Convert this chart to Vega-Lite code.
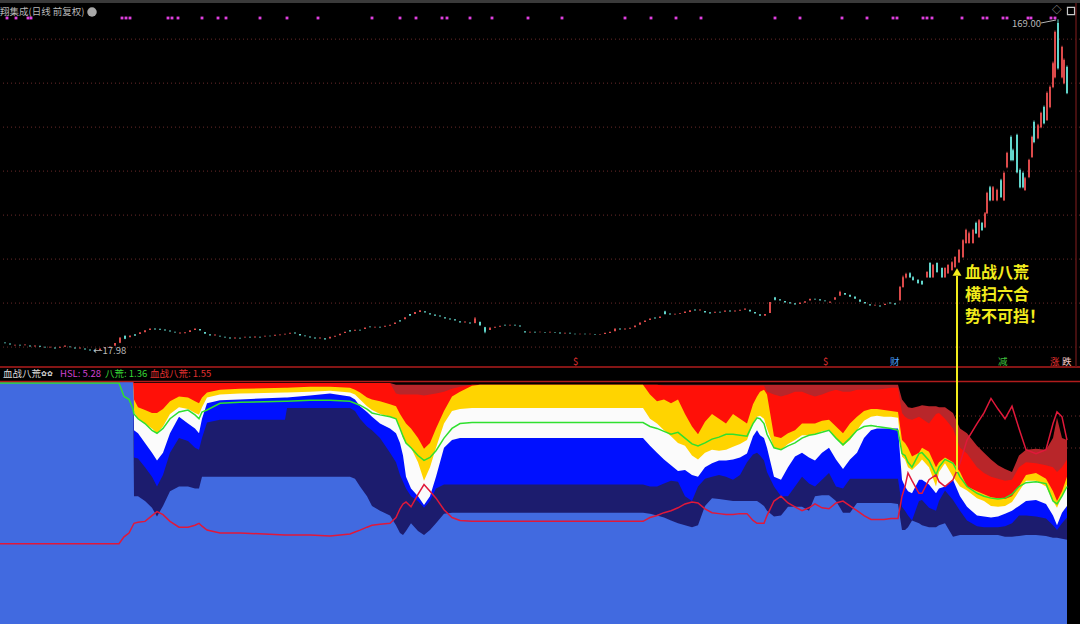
{
"$schema":"https://vega.github.io/schema/vega-lite/v6.json",
"width":1080,"height":624,
"autosize":"none",
"padding":0,
"background":"#000000",
"config":{"view":{"stroke":null,"fill":"#000000"},"scale":{"continuousPadding":0}},
"datasets":{
"pgrid":[{"p":20},{"p":40},{"p":60},{"p":80},{"p":100},{"p":120},{"p":140},{"p":160}],
"igrid":[{"L":208},{"L":176}],
"seps":[{"L":242.5},{"L":257}],
"frame":[{"L":622.5}],
"rborder":[{"t":1076,"L1":257,"L2":621}],
"ind":[
{"t":0,"d":242,"r":242,"g":242,"w":242,"b":242,"n":242,"l":242,"G":241,"R":75},
{"t":119,"d":242,"r":242,"g":242,"w":242,"b":242,"n":242,"l":242,"G":241,"R":75},
{"t":124,"d":242,"r":242,"g":242,"w":242,"b":242,"n":242,"l":242,"G":227,"R":82},
{"t":129,"d":242,"r":242,"g":242,"w":242,"b":242,"n":242,"l":242,"G":224,"R":86},
{"t":133,"d":242,"r":242,"g":242,"w":242,"b":242,"n":242,"l":242,"G":214,"R":94},
{"t":134,"d":241,"r":241,"g":224,"w":211,"b":192,"n":164,"l":124,"G":209,"R":96},
{"t":138,"d":241,"r":241,"g":216,"w":204,"b":189,"n":163,"l":124,"G":204,"R":97},
{"t":145,"d":241,"r":241,"g":213,"w":199,"b":179,"n":154,"l":119,"G":199,"R":98},
{"t":152,"d":241,"r":241,"g":210,"w":194,"b":169,"n":144,"l":112,"G":192,"R":104},
{"t":157,"d":241,"r":241,"g":210,"w":189,"b":161,"n":134,"l":103,"G":189,"R":108},
{"t":163,"d":241,"r":241,"g":214,"w":196,"b":169,"n":146,"l":114,"G":194,"R":105},
{"t":170,"d":241,"r":241,"g":222,"w":209,"b":189,"n":169,"l":129,"G":204,"R":98},
{"t":179,"d":241,"r":241,"g":227,"w":216,"b":206,"n":184,"l":134,"G":211,"R":92},
{"t":188,"d":241,"r":241,"g":226,"w":214,"b":199,"n":181,"l":134,"G":213,"R":92},
{"t":195,"d":241,"r":241,"g":222,"w":210,"b":194,"n":174,"l":132,"G":208,"R":94},
{"t":199,"d":241,"r":241,"g":220,"w":208,"b":189,"n":172,"l":132,"G":204,"R":96},
{"t":202,"d":241,"r":241,"g":226,"w":216,"b":204,"n":184,"l":144,"G":211,"R":93},
{"t":207,"d":241,"r":241,"g":231,"w":226,"b":220,"n":200,"l":144,"G":213,"R":89},
{"t":220,"d":241,"r":241,"g":234,"w":229,"b":223,"n":203,"l":144,"G":220,"R":86},
{"t":240,"d":241,"r":241,"g":235,"w":230,"b":224,"n":203,"l":144,"G":221,"R":86},
{"t":285,"d":241,"r":241,"g":236,"w":231,"b":226,"n":203,"l":144,"G":222,"R":84},
{"t":287,"d":241,"r":241,"g":236,"w":231,"b":226,"n":215,"l":144,"G":222,"R":84},
{"t":310,"d":241,"r":241,"g":237,"w":232,"b":228,"n":215,"l":144,"G":223,"R":84},
{"t":330,"d":241,"r":241,"g":237,"w":233,"b":230,"n":215,"l":144,"G":223,"R":83},
{"t":350,"d":241,"r":241,"g":236,"w":231,"b":227,"n":215,"l":144,"G":222,"R":85},
{"t":355,"d":241,"r":241,"g":234,"w":229,"b":224,"n":212,"l":142,"G":220,"R":87},
{"t":360,"d":241,"r":241,"g":231,"w":224,"b":217,"n":204,"l":134,"G":218,"R":89},
{"t":367,"d":241,"r":241,"g":226,"w":217,"b":211,"n":196,"l":124,"G":214,"R":92},
{"t":372,"d":241,"r":241,"g":224,"w":213,"b":206,"n":192,"l":114,"G":210,"R":94},
{"t":380,"d":241,"r":241,"g":222,"w":209,"b":199,"n":184,"l":109,"G":208,"R":95},
{"t":390,"d":241,"r":241,"g":219,"w":206,"b":194,"n":169,"l":104,"G":206,"R":96},
{"t":396,"d":239,"r":230,"g":217,"w":204,"b":189,"n":159,"l":94,"G":204,"R":102},
{"t":400,"d":239,"r":229,"g":209,"w":194,"b":179,"n":146,"l":86,"G":194,"R":111},
{"t":403,"d":239,"r":229,"g":204,"w":184,"b":166,"n":139,"l":84,"G":186,"R":116},
{"t":406,"d":239,"r":229,"g":199,"w":179,"b":144,"n":132,"l":88,"G":179,"R":118},
{"t":411,"d":239,"r":229,"g":194,"w":174,"b":132,"n":124,"l":96,"G":174,"R":113},
{"t":418,"d":239,"r":229,"g":184,"w":159,"b":124,"n":119,"l":88,"G":166,"R":126},
{"t":424,"d":239,"r":228,"g":173,"w":140,"b":115,"n":112,"l":84,"G":161,"R":136},
{"t":430,"d":239,"r":229,"g":179,"w":154,"b":124,"n":119,"l":89,"G":164,"R":129},
{"t":436,"d":239,"r":230,"g":194,"w":174,"b":144,"n":132,"l":96,"G":171,"R":122},
{"t":444,"d":239,"r":232,"g":212,"w":199,"b":174,"n":136,"l":106,"G":184,"R":110},
{"t":452,"d":239,"r":235,"g":227,"w":212,"b":182,"n":136,"l":107,"G":194,"R":102},
{"t":460,"d":239,"r":237,"g":232,"w":214,"b":184,"n":136,"l":107,"G":199,"R":99},
{"t":472,"d":239,"r":239,"g":238,"w":215,"b":184,"n":136,"l":107,"G":200,"R":98},
{"t":480,"d":239,"r":239,"g":239,"w":215,"b":184,"n":136,"l":107,"G":200,"R":98},
{"t":643,"d":239,"r":239,"g":239,"w":215,"b":184,"n":136,"l":107,"G":200,"R":98},
{"t":650,"d":239,"r":239,"g":229,"w":204,"b":176,"n":134,"l":106,"G":196,"R":102},
{"t":657,"d":239,"r":239,"g":222,"w":199,"b":169,"n":134,"l":104,"G":194,"R":104},
{"t":664,"d":239,"r":238,"g":224,"w":192,"b":162,"n":137,"l":102,"G":191,"R":107},
{"t":671,"d":239,"r":238,"g":220,"w":186,"b":156,"n":140,"l":99,"G":188,"R":109},
{"t":678,"d":239,"r":238,"g":224,"w":179,"b":150,"n":139,"l":96,"G":190,"R":112},
{"t":685,"d":239,"r":238,"g":209,"w":176,"b":151,"n":124,"l":94,"G":184,"R":116},
{"t":692,"d":239,"r":238,"g":196,"w":166,"b":146,"n":119,"l":92,"G":178,"R":118},
{"t":698,"d":239,"r":238,"g":188,"w":162,"b":144,"n":134,"l":94,"G":176,"R":117},
{"t":705,"d":239,"r":238,"g":201,"w":169,"b":154,"n":142,"l":114,"G":179,"R":111},
{"t":712,"d":239,"r":238,"g":209,"w":172,"b":158,"n":144,"l":122,"G":183,"R":107},
{"t":719,"d":239,"r":238,"g":204,"w":171,"b":161,"n":146,"l":121,"G":185,"R":106},
{"t":726,"d":239,"r":238,"g":199,"w":172,"b":161,"n":144,"l":120,"G":188,"R":105},
{"t":733,"d":239,"r":238,"g":209,"w":175,"b":162,"n":141,"l":119,"G":188,"R":105},
{"t":740,"d":239,"r":238,"g":204,"w":178,"b":164,"n":146,"l":119,"G":187,"R":106},
{"t":747,"d":239,"r":238,"g":199,"w":182,"b":168,"n":159,"l":119,"G":186,"R":106},
{"t":753,"d":239,"r":238,"g":219,"w":199,"b":186,"n":167,"l":119,"G":199,"R":99},
{"t":757,"d":239,"r":238,"g":227,"w":206,"b":192,"n":169,"l":119,"G":205,"R":96},
{"t":760,"d":239,"r":238,"g":232,"w":207,"b":187,"n":166,"l":117,"G":204,"R":96},
{"t":764,"d":239,"r":238,"g":234,"w":204,"b":184,"n":161,"l":114,"G":199,"R":96},
{"t":767,"d":239,"r":232,"g":229,"w":194,"b":174,"n":149,"l":109,"G":188,"R":104},
{"t":774,"d":239,"r":229,"g":186,"w":174,"b":144,"n":134,"l":103,"G":174,"R":119},
{"t":781,"d":239,"r":227,"g":184,"w":172,"b":141,"n":124,"l":104,"G":172,"R":124},
{"t":788,"d":239,"r":229,"g":189,"w":178,"b":154,"n":124,"l":113,"G":176,"R":117},
{"t":795,"d":239,"r":232,"g":192,"w":182,"b":165,"n":134,"l":113,"G":179,"R":113},
{"t":802,"d":239,"r":232,"g":199,"w":187,"b":169,"n":144,"l":113,"G":184,"R":109},
{"t":809,"d":239,"r":229,"g":199,"w":187,"b":164,"n":137,"l":109,"G":187,"R":112},
{"t":815,"d":239,"r":227,"g":199,"w":188,"b":161,"n":134,"l":124,"G":188,"R":116},
{"t":822,"d":239,"r":229,"g":202,"w":191,"b":169,"n":141,"l":125,"G":190,"R":112},
{"t":829,"d":239,"r":232,"g":203,"w":192,"b":174,"n":148,"l":125,"G":192,"R":111},
{"t":836,"d":239,"r":234,"g":196,"w":184,"b":162,"n":134,"l":119,"G":184,"R":117},
{"t":843,"d":239,"r":232,"g":189,"w":176,"b":152,"n":132,"l":107,"G":177,"R":119},
{"t":850,"d":239,"r":232,"g":199,"w":182,"b":162,"n":142,"l":107,"G":184,"R":114},
{"t":857,"d":239,"r":234,"g":206,"w":192,"b":169,"n":142,"l":117,"G":192,"R":109},
{"t":864,"d":239,"r":234,"g":212,"w":202,"b":184,"n":142,"l":117,"G":196,"R":104},
{"t":871,"d":239,"r":234,"g":214,"w":206,"b":192,"n":142,"l":117,"G":197,"R":100},
{"t":877,"d":239,"r":234,"g":214,"w":207,"b":194,"n":142,"l":117,"G":196,"R":100},
{"t":884,"d":239,"r":235,"g":213,"w":206,"b":194,"n":142,"l":117,"G":195,"R":100},
{"t":891,"d":239,"r":236,"g":212,"w":206,"b":194,"n":142,"l":117,"G":194,"R":101},
{"t":898,"d":239,"r":236,"g":211,"w":205,"b":194,"n":142,"l":116,"G":192,"R":101},
{"t":902,"d":224,"r":210,"g":182,"w":165,"b":141,"n":113,"l":89,"G":168,"R":124},
{"t":905,"d":220,"r":206,"g":179,"w":162,"b":134,"n":109,"l":89,"G":166,"R":134},
{"t":908,"d":216,"r":204,"g":174,"w":154,"b":129,"n":104,"l":92,"G":159,"R":148},
{"t":912,"d":215,"r":203,"g":165,"w":151,"b":127,"n":99,"l":99,"G":154,"R":140},
{"t":919,"d":217,"r":206,"g":169,"w":158,"b":141,"n":119,"l":96,"G":168,"R":127},
{"t":922,"d":218,"r":204,"g":174,"w":162,"b":141,"n":120,"l":94,"G":169,"R":127},
{"t":929,"d":217,"r":199,"g":170,"w":154,"b":136,"n":112,"l":92,"G":161,"R":141},
{"t":936,"d":217,"r":209,"g":154,"w":134,"b":127,"n":109,"l":92,"G":146,"R":146},
{"t":939,"d":216,"r":210,"g":159,"w":149,"b":132,"n":119,"l":94,"G":154,"R":139},
{"t":945,"d":216,"r":204,"g":164,"w":158,"b":134,"n":130,"l":96,"G":162,"R":134},
{"t":953,"d":210,"r":194,"g":159,"w":144,"b":141,"n":120,"l":82,"G":158,"R":141},
{"t":960,"d":194,"r":174,"g":149,"w":134,"b":124,"n":109,"l":84,"G":144,"R":158},
{"t":967,"d":189,"r":168,"g":134,"w":130,"b":113,"n":99,"l":84,"G":134,"R":182},
{"t":977,"d":176,"r":154,"g":129,"w":122,"b":104,"n":93,"l":84,"G":127,"R":199},
{"t":984,"d":169,"r":148,"g":126,"w":119,"b":103,"n":92,"l":84,"G":124,"R":210},
{"t":991,"d":162,"r":144,"g":123,"w":114,"b":102,"n":92,"l":84,"G":122,"R":225},
{"t":998,"d":156,"r":142,"g":122,"w":113,"b":103,"n":92,"l":84,"G":121,"R":214},
{"t":1005,"d":152,"r":140,"g":121,"w":114,"b":106,"n":93,"l":82,"G":122,"R":204},
{"t":1012,"d":149,"r":141,"g":124,"w":118,"b":109,"n":96,"l":82,"G":126,"R":217},
{"t":1019,"d":166,"r":154,"g":134,"w":129,"b":114,"n":104,"l":83,"G":134,"R":194},
{"t":1026,"d":172,"r":159,"g":146,"w":140,"b":119,"n":104,"l":84,"G":138,"R":172},
{"t":1036,"d":173,"r":158,"g":148,"w":140,"b":120,"n":103,"l":84,"G":139,"R":168},
{"t":1046,"d":172,"r":156,"g":142,"w":134,"b":116,"n":101,"l":83,"G":137,"R":172},
{"t":1053,"d":184,"r":154,"g":129,"w":119,"b":104,"n":94,"l":81,"G":119,"R":199},
{"t":1057,"d":205,"r":149,"g":119,"w":112,"b":94,"n":89,"l":81,"G":116,"R":211},
{"t":1062,"d":184,"r":154,"g":129,"w":124,"b":107,"n":96,"l":80,"G":124,"R":206},
{"t":1067,"d":182,"r":162,"g":144,"w":136,"b":114,"n":102,"l":79,"G":134,"R":182}
],
"candles":[
{"t":5,"o":22.1,"c":21.7},{"t":10,"o":21.6,"c":21.2},{"t":15,"o":20.7,"c":21.1},{"t":20,"o":21.1,"c":20.7},{"t":25,"o":20.8,"c":21.2},
{"t":30,"o":20.7,"c":20.3},{"t":35,"o":20.3,"c":20.7},{"t":40,"o":20.6,"c":20.2},{"t":45,"o":20.2,"c":19.8},{"t":50,"o":19.8,"c":20.2},
{"t":55,"o":19.8,"c":19.4},{"t":60,"o":19.7,"c":20.2},{"t":65,"o":20.2,"c":20.7},{"t":70,"o":20.3,"c":19.9},{"t":75,"o":19.8,"c":19.4},
{"t":80,"o":19.4,"c":19.8},{"t":85,"o":19.3,"c":18.9},{"t":90,"o":18.9,"c":18.5},{"t":95,"o":18.5,"c":18.1,"h":18.7,"l":17.98},{"t":100,"o":18.7,"c":19.3},
{"t":105,"o":19.3,"c":19.8},{"t":110,"o":19.8,"c":20.3},{"t":115,"o":20.6,"c":21.8},{"t":120,"o":22.0,"c":24.2,"h":24.5,"l":21.8},{"t":125,"o":25.0,"c":23.8,"h":25.4,"l":23.6},
{"t":130,"o":24.5,"c":25.3},{"t":135,"o":25.8,"c":25.2},{"t":140,"o":25.9,"c":26.7},{"t":145,"o":26.8,"c":27.6},{"t":150,"o":27.8,"c":28.5},
{"t":155,"o":28.4,"c":28.0},{"t":160,"o":28.3,"c":27.9},{"t":165,"o":28.0,"c":27.5},{"t":170,"o":27.5,"c":27.1},{"t":175,"o":27.0,"c":26.6},
{"t":180,"o":26.2,"c":26.6},{"t":185,"o":26.3,"c":26.7},{"t":190,"o":26.9,"c":27.6},{"t":195,"o":27.8,"c":28.5},{"t":200,"o":28.2,"c":27.5},
{"t":205,"o":26.9,"c":26.1},{"t":210,"o":25.8,"c":25.3},{"t":215,"o":25.3,"c":25.7},{"t":220,"o":25.2,"c":24.8},{"t":225,"o":24.7,"c":24.3},
{"t":230,"o":24.3,"c":23.9},{"t":235,"o":23.9,"c":24.3},{"t":240,"o":24.2,"c":23.9},{"t":245,"o":24.3,"c":24.7},{"t":250,"o":24.7,"c":24.4},
{"t":255,"o":24.4,"c":24.8},{"t":260,"o":24.7,"c":24.3},{"t":265,"o":24.8,"c":25.2},{"t":270,"o":25.2,"c":24.9},{"t":275,"o":25.2,"c":25.6},
{"t":280,"o":25.4,"c":25.7},{"t":285,"o":25.7,"c":26.1},{"t":290,"o":26.1,"c":26.5},{"t":295,"o":26.6,"c":26.2},{"t":300,"o":26.0,"c":25.3},
{"t":305,"o":25.3,"c":24.9},{"t":310,"o":24.8,"c":24.4},{"t":315,"o":24.3,"c":23.9},{"t":320,"o":23.9,"c":24.3},{"t":325,"o":24.0,"c":23.4},
{"t":330,"o":23.9,"c":24.7},{"t":335,"o":24.7,"c":25.2},{"t":340,"o":25.4,"c":26.1},{"t":345,"o":26.4,"c":27.0},{"t":350,"o":27.6,"c":27.1},
{"t":355,"o":27.4,"c":27.9},{"t":360,"o":27.9,"c":27.5},{"t":365,"o":28.2,"c":28.9},{"t":370,"o":29.4,"c":29.0},{"t":375,"o":28.9,"c":29.3},
{"t":380,"o":29.3,"c":28.9},{"t":385,"o":29.2,"c":29.7},{"t":390,"o":29.7,"c":30.2},{"t":395,"o":30.5,"c":31.2},{"t":400,"o":32.2,"c":31.6},
{"t":405,"o":32.6,"c":33.6},{"t":410,"o":35.0,"c":34.2},{"t":415,"o":35.0,"c":35.9},{"t":420,"o":36.0,"c":36.7},{"t":425,"o":36.3,"c":35.7},
{"t":430,"o":35.4,"c":34.8},{"t":435,"o":34.8,"c":34.3},{"t":440,"o":34.4,"c":33.9},{"t":445,"o":33.6,"c":33.0},{"t":450,"o":33.0,"c":32.5},
{"t":455,"o":32.6,"c":32.1},{"t":460,"o":31.8,"c":31.2},{"t":465,"o":31.2,"c":31.6},{"t":470,"o":31.2,"c":30.7},{"t":475,"o":31.0,"c":33.0,"h":33.6,"l":30.8},
{"t":480,"o":31.5,"c":29.8},{"t":485,"o":29.0,"c":27.0,"h":29.2,"l":26.3},{"t":490,"o":27.8,"c":28.9},{"t":495,"o":28.8,"c":29.3},{"t":500,"o":29.2,"c":29.7},
{"t":505,"o":30.2,"c":29.8},{"t":510,"o":29.8,"c":30.2},{"t":515,"o":30.1,"c":29.8},{"t":520,"o":29.8,"c":29.4},{"t":525,"o":27.2,"c":26.6},
{"t":530,"o":26.6,"c":27.0},{"t":535,"o":27.0,"c":26.6},{"t":540,"o":26.7,"c":27.0},{"t":545,"o":26.9,"c":26.6},{"t":550,"o":26.6,"c":27.0},
{"t":555,"o":26.9,"c":26.6},{"t":560,"o":26.6,"c":26.2},{"t":565,"o":26.2,"c":26.5},{"t":570,"o":26.5,"c":26.2},{"t":575,"o":26.1,"c":25.8},
{"t":580,"o":25.8,"c":26.1},{"t":585,"o":26.1,"c":25.8},{"t":590,"o":25.8,"c":26.1},{"t":595,"o":26.0,"c":25.7},{"t":600,"o":25.7,"c":26.0},
{"t":605,"o":26.0,"c":26.5},{"t":610,"o":26.4,"c":27.0},{"t":615,"o":27.2,"c":28.4},{"t":620,"o":28.4,"c":28.0},{"t":625,"o":28.0,"c":28.4},
{"t":630,"o":28.3,"c":28.8},{"t":635,"o":29.0,"c":29.8},{"t":640,"o":30.2,"c":31.2},{"t":645,"o":31.4,"c":32.1},{"t":650,"o":32.3,"c":33.0},
{"t":655,"o":33.5,"c":33.0},{"t":660,"o":33.2,"c":33.9},{"t":665,"o":36.2,"c":35.0,"h":36.5,"l":34.8},{"t":670,"o":35.3,"c":34.8},{"t":675,"o":34.8,"c":35.2},
{"t":680,"o":35.0,"c":35.4},{"t":685,"o":35.5,"c":36.2},{"t":690,"o":36.0,"c":36.7},{"t":695,"o":37.1,"c":36.6},{"t":700,"o":36.6,"c":37.1},
{"t":705,"o":36.4,"c":35.7},{"t":710,"o":35.8,"c":35.3},{"t":715,"o":35.6,"c":36.1},{"t":720,"o":36.1,"c":35.7},{"t":725,"o":36.1,"c":36.6},
{"t":730,"o":36.6,"c":36.2},{"t":735,"o":36.2,"c":36.6},{"t":740,"o":36.5,"c":37.0},{"t":745,"o":37.0,"c":37.5},{"t":750,"o":37.0,"c":36.2},
{"t":755,"o":35.9,"c":35.3},{"t":760,"o":34.9,"c":34.3},{"t":765,"o":34.3,"c":35.0},{"t":770,"o":35.5,"c":40.5},{"t":775,"o":42.5,"c":41.5,"h":42.8,"l":41.2},
{"t":780,"o":41.7,"c":41.2},{"t":785,"o":40.9,"c":40.3},{"t":790,"o":40.4,"c":39.8},{"t":795,"o":39.9,"c":39.4},{"t":800,"o":39.6,"c":40.3},
{"t":805,"o":40.2,"c":40.8},{"t":810,"o":41.2,"c":42.0},{"t":815,"o":42.0,"c":41.6},{"t":820,"o":41.7,"c":41.2},{"t":825,"o":41.2,"c":40.8},
{"t":830,"o":40.2,"c":40.7},{"t":835,"o":41.5,"c":42.7},{"t":840,"o":43.4,"c":45.0,"h":45.6,"l":43.2},{"t":845,"o":44.6,"c":43.8},{"t":850,"o":43.8,"c":42.9},
{"t":855,"o":43.0,"c":42.0},{"t":860,"o":41.6,"c":40.6},{"t":865,"o":40.5,"c":39.8},{"t":870,"o":39.5,"c":38.9},{"t":875,"o":38.9,"c":39.3},
{"t":880,"o":38.9,"c":38.4},{"t":885,"o":39.1,"c":39.7},{"t":890,"o":40.3,"c":39.8},{"t":895,"o":39.9,"c":39.4},
{"t":900,"o":41.4,"c":47.3,"h":47.8,"l":41.0},{"t":903,"o":47.3,"c":51.8,"h":52.5,"l":47.0},{"t":906,"o":51.6,"c":53.2,"h":53.8,"l":51.2},
{"t":910,"o":53.6,"c":51.8,"h":54.0,"l":51.5},{"t":913,"o":51.8,"c":50.5,"h":52.2,"l":50.2},{"t":918,"o":50.5,"c":49.1,"h":50.9,"l":48.8},
{"t":922,"o":50.0,"c":48.6,"h":50.3,"l":48.3},{"t":927,"o":51.8,"c":54.1,"h":54.5,"l":51.5},{"t":930,"o":58.2,"c":51.8,"h":58.6,"l":51.4},
{"t":933,"o":51.8,"c":57.3,"h":57.8,"l":51.5},{"t":937,"o":58.2,"c":54.1,"h":58.5,"l":53.8},{"t":942,"o":55.9,"c":51.8,"h":56.2,"l":51.5},
{"t":945,"o":51.8,"c":55.9,"h":56.3,"l":51.5},{"t":948,"o":53.6,"c":57.3,"h":57.7,"l":53.3},{"t":952,"o":55.0,"c":58.6,"h":59.0,"l":54.7},
{"t":955,"o":56.4,"c":60.9,"h":61.3,"l":56.0},{"t":959,"o":58.6,"c":64.1,"h":64.6,"l":58.2},{"t":963,"o":60.9,"c":68.6,"h":69.0,"l":60.5},
{"t":966,"o":67.3,"c":73.2,"h":73.8,"l":67.0},{"t":969,"o":67.3,"c":71.8,"h":72.5,"l":67.0},{"t":973,"o":67.3,"c":73.2,"h":73.8,"l":67.0},
{"t":976,"o":76.4,"c":71.8,"h":77.0,"l":71.4},{"t":979,"o":70.0,"c":77.7,"h":78.2,"l":69.6},{"t":982,"o":76.4,"c":73.2,"h":76.9,"l":72.8},
{"t":985,"o":74.5,"c":80.9,"h":81.4,"l":74.1},{"t":987,"o":80.9,"c":90.0,"h":90.6,"l":80.5},{"t":990,"o":92.7,"c":86.8,"h":93.3,"l":86.3},
{"t":993,"o":86.8,"c":92.7,"h":93.2,"l":86.4},{"t":997,"o":86.8,"c":91.4,"h":92.0,"l":86.3},{"t":1001,"o":95.9,"c":88.2,"h":96.5,"l":87.8},
{"t":1004,"o":86.8,"c":99.1,"h":99.8,"l":86.4},{"t":1007,"o":101.8,"c":108.2,"h":108.8,"l":101.3},{"t":1011,"o":115.5,"c":105.0,"h":116.2,"l":104.5},
{"t":1013,"o":109.5,"c":105.0,"h":110.2,"l":104.5},{"t":1017,"o":116.4,"c":99.5,"h":117.0,"l":99.0},{"t":1020,"o":100.5,"c":92.7,"h":101.2,"l":92.2},
{"t":1023,"o":99.1,"c":92.7,"h":99.8,"l":92.2},{"t":1025,"o":91.4,"c":96.8,"h":97.4,"l":91.0},{"t":1029,"o":97.3,"c":105.0,"h":105.6,"l":96.8},
{"t":1032,"o":106.4,"c":115.5,"h":116.1,"l":106.0},{"t":1034,"o":122.3,"c":113.2,"h":123.0,"l":112.7},{"t":1038,"o":115.0,"c":120.9,"h":121.5,"l":114.5},
{"t":1041,"o":120.0,"c":126.4,"h":127.0,"l":119.5},{"t":1044,"o":129.1,"c":121.8,"h":129.8,"l":121.3},{"t":1047,"o":123.2,"c":135.5,"h":136.2,"l":122.8},
{"t":1050,"o":129.1,"c":138.2,"h":138.9,"l":128.6},{"t":1053,"o":138.2,"c":149.1,"h":149.8,"l":137.7},{"t":1055,"o":142.7,"c":163.2,"h":163.9,"l":142.2},
{"t":1058,"o":167.3,"c":146.8,"h":169.0,"l":146.2},{"t":1062,"o":142.7,"c":156.4,"h":157.0,"l":142.2},{"t":1064,"o":140.0,"c":150.5,"h":151.2,"l":139.5},
{"t":1067,"o":147.3,"c":135.5,"h":148.0,"l":135.0}
],
"dots":[{"t":7},{"t":16},{"t":28},{"t":31},{"t":122},{"t":126},{"t":130},{"t":168},{"t":172},{"t":178},{"t":202},{"t":218},{"t":226},{"t":260},{"t":287},{"t":318},{"t":372},{"t":400},{"t":416},{"t":442},{"t":447},{"t":470},{"t":492},{"t":528},{"t":562},{"t":625},{"t":651},{"t":676},{"t":701},{"t":775},{"t":800},{"t":842},{"t":867},{"t":893},{"t":897},{"t":923},{"t":927},{"t":932},{"t":962},{"t":983},{"t":987},{"t":1003},{"t":1007},{"t":1028},{"t":1031},{"t":1051},{"t":1055}],
"labels":[
{"t":0,"L":612,"s":"翔集成(日线 前复权)","k":"grey"},
{"t":1012,"L":600,"s":"169.00","k":"grey"},
{"t":1052,"L":614,"s":"◇","k":"grey"},
{"t":93,"L":273,"s":"←17.98","k":"grey"},
{"t":573,"L":262,"s":"$","k":"red"},
{"t":823,"L":262,"s":"$","k":"red"},
{"t":890,"L":262,"s":"财","k":"blue"},
{"t":998,"L":262,"s":"减","k":"green"},
{"t":1050,"L":262,"s":"涨","k":"red"},
{"t":1062,"L":262,"s":"跌","k":"pink"},
{"t":3,"L":250,"s":"血战八荒","k":"white"},
{"t":60,"L":250,"s":"HSL: 5.28","k":"magenta"},
{"t":105,"L":250,"s":"八荒: 1.36","k":"lime"},
{"t":150,"L":250,"s":"血战八荒: 1.55","k":"red"}
],
"flowers":[{"t":41,"L":250,"s":"✿✿"}],
"icon":[{"t":92,"L":612}],
"boxicon":[{"t":1071,"L":613}],
"leader":[{"t":1041,"t2":1056,"L":601,"L2":604}],
"arrow":[{"t":957,"L1":152,"L2":348}],
"arrowhead":[{"t":957,"L":352}],
"ann":[{"t":965,"L":351,"s":"血战八荒"},{"t":965,"L":329,"s":"横扫六合"},{"t":965,"L":307,"s":"势不可挡！"}]
},
"resolve":{"scale":{"y":"independent"}},
"layer":[
{"data":{"name":"pgrid"},"mark":{"type":"rule","color":"#6a2a2a","strokeDash":[1,3],"strokeWidth":1},
 "encoding":{"y":{"field":"p","type":"quantitative","scale":{"domain":[-105.9,177.8],"nice":false,"zero":false},"axis":null}}},
{"data":{"name":"igrid"},"mark":{"type":"rule","color":"#6a2a2a","strokeDash":[1,3],"strokeWidth":1},
 "encoding":{"y":{"field":"L","type":"quantitative","scale":{"domain":[0,624],"nice":false,"zero":false},"axis":null}}},
{"data":{"name":"ind"},"mark":{"type":"area","color":"#b8262a","opacity":1},
 "encoding":{"x":{"field":"t","type":"quantitative","scale":{"domain":[0,1080],"nice":false,"zero":false,"padding":0},"axis":null},"y":{"field":"d","type":"quantitative","scale":{"domain":[-8,636.5],"nice":false,"zero":false},"axis":null},"y2":{"datum":-8}}},
{"data":{"name":"ind"},"mark":{"type":"area","color":"#ff1008","opacity":1},
 "encoding":{"x":{"field":"t","type":"quantitative","scale":{"domain":[0,1080],"nice":false,"zero":false,"padding":0},"axis":null},"y":{"field":"r","type":"quantitative","scale":{"domain":[-8,636.5],"nice":false,"zero":false},"axis":null},"y2":{"datum":-8}}},
{"data":{"name":"ind"},"mark":{"type":"area","color":"#ffd400","opacity":1},
 "encoding":{"x":{"field":"t","type":"quantitative","scale":{"domain":[0,1080],"nice":false,"zero":false,"padding":0},"axis":null},"y":{"field":"g","type":"quantitative","scale":{"domain":[-8,636.5],"nice":false,"zero":false},"axis":null},"y2":{"datum":-8}}},
{"data":{"name":"ind"},"mark":{"type":"area","color":"#fbfbfb","opacity":1},
 "encoding":{"x":{"field":"t","type":"quantitative","scale":{"domain":[0,1080],"nice":false,"zero":false,"padding":0},"axis":null},"y":{"field":"w","type":"quantitative","scale":{"domain":[-8,636.5],"nice":false,"zero":false},"axis":null},"y2":{"datum":-8}}},
{"data":{"name":"ind"},"mark":{"type":"area","color":"#0010ff","opacity":1},
 "encoding":{"x":{"field":"t","type":"quantitative","scale":{"domain":[0,1080],"nice":false,"zero":false,"padding":0},"axis":null},"y":{"field":"b","type":"quantitative","scale":{"domain":[-8,636.5],"nice":false,"zero":false},"axis":null},"y2":{"datum":-8}}},
{"data":{"name":"ind"},"mark":{"type":"area","color":"#1c1c6e","opacity":1},
 "encoding":{"x":{"field":"t","type":"quantitative","scale":{"domain":[0,1080],"nice":false,"zero":false,"padding":0},"axis":null},"y":{"field":"n","type":"quantitative","scale":{"domain":[-8,636.5],"nice":false,"zero":false},"axis":null},"y2":{"datum":-8}}},
{"data":{"name":"ind"},"mark":{"type":"area","color":"#416ae0","opacity":1},
 "encoding":{"x":{"field":"t","type":"quantitative","scale":{"domain":[0,1080],"nice":false,"zero":false,"padding":0},"axis":null},"y":{"field":"l","type":"quantitative","scale":{"domain":[-8,636.5],"nice":false,"zero":false},"axis":null},"y2":{"datum":-8}}},
{"data":{"name":"ind"},"mark":{"type":"line","color":"#2fe02f","strokeWidth":1.5},
 "encoding":{"x":{"field":"t","type":"quantitative","scale":{"domain":[0,1080],"nice":false,"zero":false,"padding":0},"axis":null},"y":{"field":"G","type":"quantitative","scale":{"domain":[-8,636.5],"nice":false,"zero":false},"axis":null}}},
{"data":{"name":"ind"},"mark":{"type":"line","color":"#e0183a","strokeWidth":1.5},
 "encoding":{"x":{"field":"t","type":"quantitative","scale":{"domain":[0,1080],"nice":false,"zero":false,"padding":0},"axis":null},"y":{"field":"R","type":"quantitative","scale":{"domain":[-8,636.5],"nice":false,"zero":false},"axis":null}}},
{"data":{"name":"seps"},"mark":{"type":"rule","color":"#b01c1c","strokeWidth":1.5},
 "encoding":{"y":{"field":"L","type":"quantitative","scale":{"domain":[0,624],"nice":false,"zero":false},"axis":null}}},
{"data":{"name":"frame"},"mark":{"type":"rule","color":"#3a3a3a","strokeWidth":3},
 "encoding":{"y":{"field":"L","type":"quantitative","scale":{"domain":[0,624],"nice":false,"zero":false},"axis":null}}},
{"data":{"name":"rborder"},"mark":{"type":"rule","color":"#5a1515","strokeWidth":1.5},
 "encoding":{"x":{"field":"t","type":"quantitative","scale":{"domain":[0,1080],"nice":false,"zero":false,"padding":0},"axis":null},"y":{"field":"L1","type":"quantitative","scale":{"domain":[0,624],"nice":false,"zero":false},"axis":null},"y2":{"field":"L2"}}},
{"data":{"name":"candles"},"mark":{"type":"rule","strokeWidth":1},
 "encoding":{"x":{"field":"t","type":"quantitative","scale":{"domain":[0,1080],"nice":false,"zero":false,"padding":0},"axis":null},"y":{"field":"l","type":"quantitative","scale":{"domain":[-105.9,177.8],"nice":false,"zero":false},"axis":null},"y2":{"field":"h"},
 "color":{"condition":{"test":"datum.c >= datum.o","value":"#dc4a4a"},"value":"#62d6cc"}}},
{"data":{"name":"candles"},"mark":{"type":"bar","width":2},
 "encoding":{"x":{"field":"t","type":"quantitative","scale":{"domain":[0,1080],"nice":false,"zero":false,"padding":0},"axis":null},"y":{"field":"o","type":"quantitative","scale":{"domain":[-105.9,177.8],"nice":false,"zero":false},"axis":null},"y2":{"field":"c"},
 "color":{"condition":{"test":"datum.c >= datum.o","value":"#dc4a4a"},"value":"#62d6cc"}}},
{"data":{"name":"dots"},"mark":{"type":"square","size":8,"color":"#e040e0","opacity":1,"filled":true},
 "encoding":{"x":{"field":"t","type":"quantitative","scale":{"domain":[0,1080],"nice":false,"zero":false,"padding":0},"axis":null},"y":{"datum":606,"type":"quantitative","scale":{"domain":[0,624],"nice":false,"zero":false},"axis":null}}},
{"data":{"name":"icon"},"mark":{"type":"circle","size":90,"color":"#a8a8a8","opacity":1},
 "encoding":{"x":{"field":"t","type":"quantitative","scale":{"domain":[0,1080],"nice":false,"zero":false,"padding":0},"axis":null},"y":{"field":"L","type":"quantitative","scale":{"domain":[0,624],"nice":false,"zero":false},"axis":null}}},
{"data":{"name":"boxicon"},"mark":{"type":"square","size":50,"filled":false,"color":"#c8c8c8","strokeWidth":1.2,"opacity":1},
 "encoding":{"x":{"field":"t","type":"quantitative","scale":{"domain":[0,1080],"nice":false,"zero":false,"padding":0},"axis":null},"y":{"field":"L","type":"quantitative","scale":{"domain":[0,624],"nice":false,"zero":false},"axis":null}}},
{"data":{"name":"leader"},"mark":{"type":"rule","color":"#b4b4b4","strokeWidth":1},
 "encoding":{"x":{"field":"t","type":"quantitative","scale":{"domain":[0,1080],"nice":false,"zero":false,"padding":0},"axis":null},"x2":{"field":"t2"},"y":{"field":"L","type":"quantitative","scale":{"domain":[0,624],"nice":false,"zero":false},"axis":null},"y2":{"field":"L2"}}},
{"data":{"name":"labels"},"mark":{"type":"text","align":"left","baseline":"middle","fontSize":9.5,"font":"Noto Sans CJK SC"},
 "encoding":{"x":{"field":"t","type":"quantitative","scale":{"domain":[0,1080],"nice":false,"zero":false,"padding":0},"axis":null},"y":{"field":"L","type":"quantitative","scale":{"domain":[0,624],"nice":false,"zero":false},"axis":null},"text":{"field":"s"},
 "color":{"field":"k","type":"nominal","legend":null,"scale":{"domain":["grey","red","blue","green","pink","white","magenta","lime"],"range":["#b8b8b8","#e03030","#4aa0ff","#3fc03f","#f4c8c8","#dcdcdc","#d040d0","#36d836"]}}}},
{"data":{"name":"flowers"},"mark":{"type":"text","align":"left","baseline":"middle","fontSize":7,"color":"#dcdcdc"},
 "encoding":{"x":{"field":"t","type":"quantitative","scale":{"domain":[0,1080],"nice":false,"zero":false,"padding":0},"axis":null},"y":{"field":"L","type":"quantitative","scale":{"domain":[0,624],"nice":false,"zero":false},"axis":null},"text":{"field":"s"}}},
{"data":{"name":"arrow"},"mark":{"type":"rule","color":"#f2ec1c","strokeWidth":2},
 "encoding":{"x":{"field":"t","type":"quantitative","scale":{"domain":[0,1080],"nice":false,"zero":false,"padding":0},"axis":null},"y":{"field":"L1","type":"quantitative","scale":{"domain":[0,624],"nice":false,"zero":false},"axis":null},"y2":{"field":"L2"}}},
{"data":{"name":"arrowhead"},"mark":{"type":"point","shape":"triangle-up","size":80,"filled":true,"color":"#f2ec1c","opacity":1},
 "encoding":{"x":{"field":"t","type":"quantitative","scale":{"domain":[0,1080],"nice":false,"zero":false,"padding":0},"axis":null},"y":{"field":"L","type":"quantitative","scale":{"domain":[0,624],"nice":false,"zero":false},"axis":null}}},
{"data":{"name":"ann"},"mark":{"type":"text","align":"left","baseline":"middle","fontSize":16,"fontWeight":"bold","font":"Noto Sans CJK SC","color":"#f2ec1c"},
 "encoding":{"x":{"field":"t","type":"quantitative","scale":{"domain":[0,1080],"nice":false,"zero":false,"padding":0},"axis":null},"y":{"field":"L","type":"quantitative","scale":{"domain":[0,624],"nice":false,"zero":false},"axis":null},"text":{"field":"s"}}}
]
}
